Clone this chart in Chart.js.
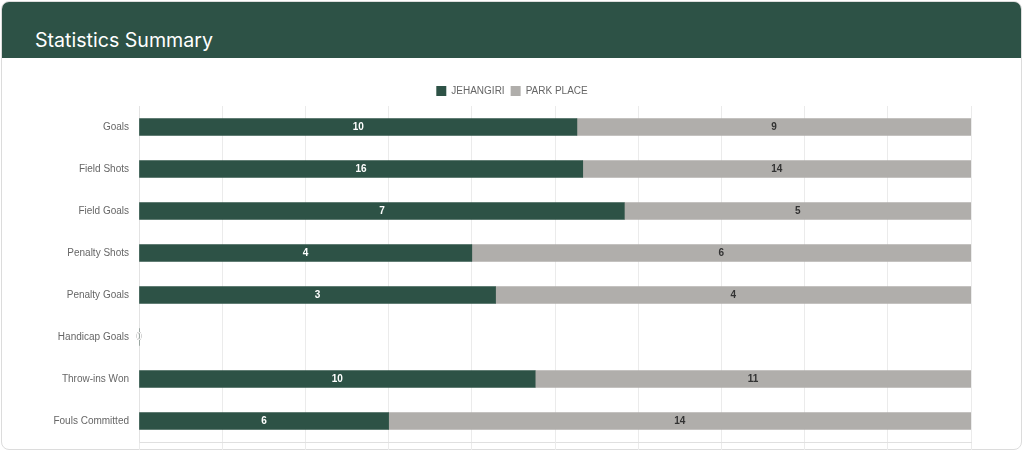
<!DOCTYPE html>
<html>
<head>
<meta charset="utf-8">
<script src="https://cdn.jsdelivr.net/npm/chart.js@4.4.1/dist/chart.umd.min.js"></script>
<style>
  body { margin: 0; background: #fff; width: 1024px; height: 452px; overflow: hidden; }
  .card {
    position: absolute; left: 1px; top: 1px; width: 1019px; height: 447px;
    border: 1px solid #dcdcdc; border-radius: 8px; overflow: hidden; background: #fff;
  }
  .card-header {
    height: 56px; background: #2d5246; color: #fff;
    font-family: Inter, "Noto Sans", sans-serif; font-size: 19.6px;
    padding-left: 33px; line-height: 24px; box-sizing: border-box; padding-top: 26px;
  }
  .chart-box { position: absolute; left: 0; top: 58px; width: 1024px; height: 400px; }
</style>
</head>
<body>
<div class="card">
  <div class="card-header">Statistics Summary</div>
</div>
<div class="chart-box"><canvas id="stats_chart"></canvas></div>
<script>
    const categorias = ['Goals', 'Field Shots', 'Field Goals', 'Penalty Shots', 'Penalty Goals', 'Handicap Goals', 'Throw-ins Won', 'Fouls Committed'];
    const jehangiri = [10, 16, 7, 4, 3, 0, 10, 6];
    const parkPlace = [9, 14, 5, 6, 4, 0, 11, 14];

    // percentual de cada time por estatistica (barra 100%)
    function percentual(a, b) {
        return a.map((v, i) => {
            const total = v + b[i];
            return total == 0 ? 0 : v / total * 100;
        });
    }

    const valoresBrutos = [jehangiri, parkPlace];

    const rotulos = {
        id: 'rotulos',
        afterDatasetsDraw(chart) {
            const ctx = chart.ctx;
            ctx.save();
            ctx.font = 'bold 10px "Liberation Sans", Arial, sans-serif';
            ctx.textAlign = 'center';
            ctx.textBaseline = 'middle';
            for (let d = chart.data.datasets.length - 1; d >= 0; d--) {
                const meta = chart.getDatasetMeta(d);
                ctx.fillStyle = d == 0 ? '#ffffff' : '#333333';
                meta.data.forEach((bar, i) => {
                    const x = (bar.x + bar.base) / 2;
                    ctx.fillText(String(valoresBrutos[d][i]), x, bar.y);
                });
            }
            ctx.restore();
        }
    };

    const data = {
        labels: categorias,
        datasets: [{
            label: 'JEHANGIRI',
            backgroundColor: '#2d5246',
            data: percentual(jehangiri, parkPlace),
            barThickness: 17
        },
        {
            label: 'PARK PLACE',
            backgroundColor: '#b0aeab',
            data: percentual(parkPlace, jehangiri),
            barThickness: 17
        }]
    };

    const config = {
        type: 'bar',
        data: data,
        plugins: [rotulos],
        options: {
            indexAxis: 'y',
            responsive: true,
            maintainAspectRatio: false,
            animation: false,
            layout: { padding: { top: 22, right: 0, left: 0, bottom: 0 } },
            scales: {
                x: {
                    stacked: true,
                    min: 0,
                    max: 100,
                    ticks: { display: false, stepSize: 10 },
                    grid: { color: '#ebebeb', tickLength: 8 },
                    border: { color: '#e0e0e0' }
                },
                y: {
                    stacked: true,
                    grid: { display: false, drawTicks: false },
                    border: { color: '#e3e3e3' },
                    ticks: { color: '#666', padding: 10, font: { size: 10 } },
                    afterFit: function (scale) { scale.width = 139; }
                },
                // eixo vazio so para dar a margem da direita
                margem: {
                    type: 'category',
                    position: 'right',
                    grid: { display: false, drawTicks: false },
                    border: { display: false },
                    ticks: { display: false },
                    afterFit: function (scale) { scale.width = 53; }
                }
            },
            plugins: {
                tooltip: { enabled: false },
                legend: {
                    labels: {
                        boxWidth: 10,
                        boxHeight: 10,
                        padding: 6,
                        color: '#666',
                        font: { size: 10 }
                    }
                }
            }
        }
    };

    var ctx = document.getElementById('stats_chart');
    var statsChart = new Chart(ctx, config);
</script>
</body>
</html>
